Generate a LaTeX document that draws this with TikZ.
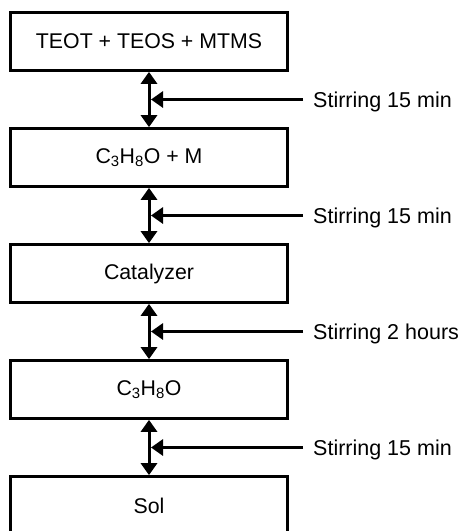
\documentclass[tikz,border=0pt]{standalone}
\usepackage{fontspec}
\setmainfont{Liberation Sans}
\usetikzlibrary{arrows.meta,calc}
\begin{document}
\begin{tikzpicture}[x=1pt,y=-1pt,
  stepbox/.style={draw,line width=3.2pt,minimum width=277pt,minimum height=57.5pt,inner sep=0pt,font=\fontsize{21.3}{25}\selectfont},
  lbl/.style={inner sep=0pt,anchor=base west,font=\fontsize{21.5}{25}\selectfont},
  dbl/.style={line width=3pt,{Triangle[length=12pt,width=16pt]}-{Triangle[length=12pt,width=16pt]}},
  arr/.style={line width=3pt,-{Triangle[length=12pt,width=16pt]}}]
\useasboundingbox (0,0) rectangle (461,531);
\clip (0,0) rectangle (461,531);
\node[stepbox] (b1) at (149,41.5) {TEOT + TEOS + MTMS};
\node[stepbox] (b2) at (149,157.5) {C\textsubscript{3}H\textsubscript{8}O + M};
\node[stepbox] (b3) at (149,273.5) {Catalyzer};
\node[stepbox] (b4) at (149,389.5) {C\textsubscript{3}H\textsubscript{8}O};
\node[stepbox] (b5) at (149,505.5) {Sol};
\draw[dbl] (b1.south) -- (b2.north);
\draw[dbl] (b2.south) -- (b3.north);
\draw[dbl] (b3.south) -- (b4.north);
\draw[dbl] (b4.south) -- (b5.north);
\foreach \a/\b/\t [count=\i] in {b1/b2/Stirring 15 min, b2/b3/Stirring 15 min, b3/b4/Stirring 2 hours, b4/b5/Stirring 15 min}{
  \coordinate (m\i) at ($(\a.south)!0.5!(\b.north)$);
  \coordinate (t\i) at ($(m\i)+(2,0)$);
  \coordinate (s\i) at ($(m\i)+(154,0)$);
  \draw[arr] (s\i) -- (t\i);
  \node[lbl] (l\i) at ($(s\i)+(10,7.5)$) {\t};
}
\end{tikzpicture}
\end{document}
